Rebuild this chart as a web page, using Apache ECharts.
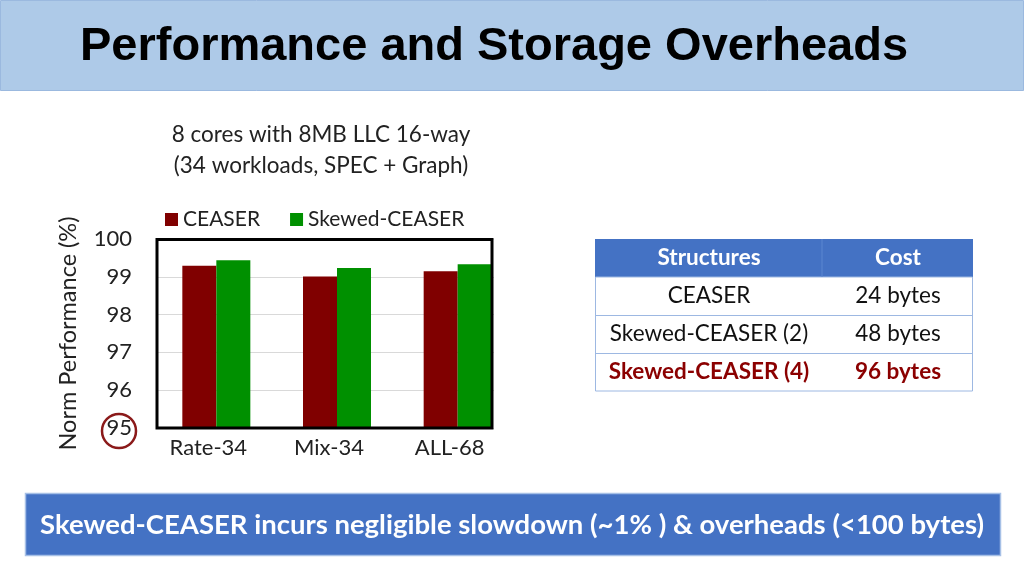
<!DOCTYPE html>
<html><head><meta charset="utf-8">
<script src="https://cdn.jsdelivr.net/npm/echarts@6/dist/echarts.min.js"></script>
<style>html,body{margin:0;padding:0;background:#fff}#c{width:1024px;height:576px}</style>
</head><body><div id="c"></div>
<script>
const categories = ['Rate-34', 'Mix-34', 'ALL-68'];
const seriesNames = ['CEASER', 'Skewed-CEASER'];
const ceaserValues = [99.29, 99.01, 99.15];
const skewedValues = [99.44, 99.23, 99.33];
const yMin = 95, yMax = 100, yStep = 1;
const tableHeader = ['Structures', 'Cost'];
const tableRows = [['CEASER', '24 bytes'], ['Skewed-CEASER (2)', '48 bytes'], ['Skewed-CEASER (4)', '96 bytes']];
const titleText = 'Performance and Storage Overheads';
const subtitleLines = ['8 cores with 8MB LLC 16-way', '(34 workloads, SPEC + Graph)'];
const yAxisName = 'Norm Performance (%)';
const bannerText = 'Skewed-CEASER incurs negligible slowdown (~1% ) & overheads (<100 bytes)';

const F = 'Lato, "Open Sans", sans-serif';
const chart = echarts.init(document.getElementById('c'));

const graphics = [];
// title banner
graphics.push({type:'rect', shape:{x:0.5,y:0.5,width:1023,height:90}, style:{fill:'#AECAE8', stroke:'#9BB9DF', lineWidth:1}, z:1});
graphics.push({type:'text', x:80, y:47, style:{text:titleText, font:'bold 47px "Liberation Sans", Arial, sans-serif', fill:'#000', textVerticalAlign:'middle'}, z:2});
// subtitle
subtitleLines.forEach((t,i)=>graphics.push({type:'text', x:321, y:135+i*31, style:{text:t, font:'22.5px '+F, fill:'#222', textAlign:'center', textVerticalAlign:'middle'}, z:2}));
// table
const tx = 595, tw = 378, colSplit = 822, ty = 239, rh = 38;
graphics.push({type:'rect', shape:{x:tx,y:ty,width:tw,height:rh}, style:{fill:'#4472C4'}, z:2});
graphics.push({type:'line', shape:{x1:colSplit,y1:ty,x2:colSplit,y2:ty+rh}, style:{stroke:'#5B86D0', lineWidth:1}, z:3});
graphics.push({type:'rect', shape:{x:tx+0.5,y:ty+rh,width:tw-1,height:rh*3}, style:{fill:'#fff', stroke:'#9DB8E2', lineWidth:1}, z:2});
for (let i=1;i<3;i++) graphics.push({type:'line', shape:{x1:tx,y1:ty+rh*(i+1)+0.5,x2:tx+tw,y2:ty+rh*(i+1)+0.5}, style:{stroke:'#9DB8E2', lineWidth:1}, z:3});
const c1 = 709, c2 = 898;
const TF = '22.5px ' + F;
graphics.push({type:'text', x:c1, y:ty+rh/2, style:{text:tableHeader[0], font:'bold '+TF, fill:'#fff', textAlign:'center', textVerticalAlign:'middle'}, z:4});
graphics.push({type:'text', x:c2, y:ty+rh/2, style:{text:tableHeader[1], font:'bold '+TF, fill:'#fff', textAlign:'center', textVerticalAlign:'middle'}, z:4});
tableRows.forEach((r,i)=>{
  const last = i===tableRows.length-1;
  const font = (last?'bold ':'')+TF;
  const fill = last?'#8B0000':'#111';
  graphics.push({type:'text', x:c1, y:ty+rh*(i+1)+rh/2, style:{text:r[0], font, fill, textAlign:'center', textVerticalAlign:'middle'}, z:4});
  graphics.push({type:'text', x:c2, y:ty+rh*(i+1)+rh/2, style:{text:r[1], font, fill, textAlign:'center', textVerticalAlign:'middle'}, z:4});
});
// bottom banner
graphics.push({type:'rect', shape:{x:25.5,y:493.5,width:975,height:62}, style:{fill:'#4472C4', stroke:'#A6C0E6', lineWidth:1.5}, z:2});
graphics.push({type:'text', x:512, y:525, style:{text:bannerText, font:'bold 27.5px '+F, fill:'#fff', textAlign:'center', textVerticalAlign:'middle'}, z:3});
// cover grid overflow and plot border
graphics.push({type:'rect', shape:{x:494,y:234,width:40,height:198}, style:{fill:'#fff'}, z:50});
graphics.push({type:'rect', shape:{x:157,y:239.5,width:335,height:188.5}, style:{fill:'none', stroke:'#000', lineWidth:3}, z:60});
// circle on 95
graphics.push({type:'circle', shape:{cx:119,cy:431,r:17}, style:{fill:'none', stroke:'#8B1A1A', lineWidth:2.5}, z:60});

chart.setOption({
  animation:false,
  textStyle:{fontFamily:F},
  legend:{left:160, top:204, itemWidth:13, itemHeight:13, itemGap:30, icon:'rect',
    textStyle:{fontSize:21, color:'#222', fontFamily:F}, data:seriesNames},
  grid:{left:156, top:239, width:362, height:189, containLabel:false},
  xAxis:{type:'category', data:categories, axisLine:{show:false}, axisTick:{show:false},
    axisLabel:{fontSize:22, color:'#222', margin:9, fontFamily:F, padding:[0,16,0,0]}},
  yAxis:{type:'value', min:yMin, max:yMax, interval:yStep,
    name:yAxisName, nameLocation:'middle', nameGap:76, nameRotate:90,
    nameTextStyle:{fontSize:23.5, color:'#222', fontFamily:F},
    axisLine:{show:false}, axisTick:{show:false},
    axisLabel:{fontSize:22, color:'#222', margin:24, fontFamily:F},
    splitLine:{show:true, lineStyle:{color:'#D9D9D9', width:1}}},
  series:[
    {name:seriesNames[0], type:'bar', data:ceaserValues, barWidth:34, barGap:'0%', itemStyle:{color:'#800000'}},
    {name:seriesNames[1], type:'bar', data:skewedValues, barWidth:34, barGap:'0%', itemStyle:{color:'#009000'}}
  ],
  graphic:{elements:graphics}
});
</script></body></html>
